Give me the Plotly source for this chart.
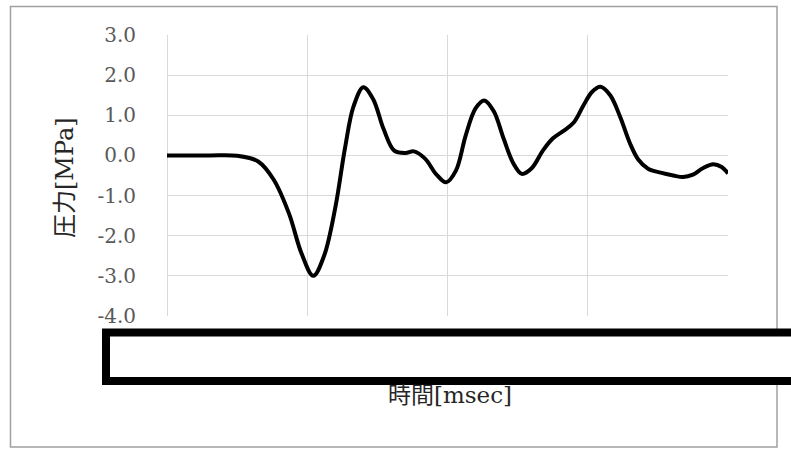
import plotly.graph_objects as go

# Pressure waveform: time [msec] and pressure [MPa]
time_ms = [0.0, 0.30, 0.50, 0.65, 0.76, 0.87, 0.96, 1.043, 1.12, 1.20,
           1.27, 1.33, 1.40, 1.47, 1.545, 1.62, 1.70, 1.76, 1.84, 1.92,
           1.99, 2.06, 2.13, 2.20, 2.262, 2.33, 2.40, 2.47, 2.53, 2.60,
           2.68, 2.75, 2.83, 2.90, 2.97, 3.03, 3.09, 3.16, 3.23, 3.30,
           3.36, 3.43, 3.52, 3.61, 3.68, 3.75, 3.82, 3.895, 3.955, 4.0]
pressure_mpa = [0.0, 0.0, -0.01, -0.15, -0.60, -1.45, -2.45, -3.00, -2.50, -1.30,
                0.20, 1.22, 1.70, 1.40, 0.65, 0.12, 0.06, 0.10, -0.08, -0.47,
                -0.67, -0.38, 0.50, 1.17, 1.37, 1.10, 0.42, -0.20, -0.46, -0.32,
                0.12, 0.42, 0.62, 0.82, 1.25, 1.58, 1.71, 1.50, 0.97, 0.31,
                -0.10, -0.33, -0.43, -0.50, -0.54, -0.48, -0.32, -0.22, -0.29, -0.45]

x_ticks = [0, 1, 2, 3, 4]
y_ticks = [3.0, 2.0, 1.0, 0.0, -1.0, -2.0, -3.0, -4.0]
y_tick_text = [f"{v:.1f}" for v in y_ticks]

W, H = 791, 449
L, R, T, B = 167, 728, 35, 316  # plot area edges in pixels


def px(x):
    return (x - L) / (R - L)


def py(y):
    return (B - y) / (B - T)


fig = go.Figure()
fig.add_trace(go.Scatter(
    x=time_ms, y=pressure_mpa, mode="lines",
    line=dict(color="black", width=4, shape="spline", smoothing=1.0),
    showlegend=False, hoverinfo="skip",
))

grid = "#d9d9d9"
fig.update_layout(
    width=W, height=H,
    margin=dict(l=L, r=W - R, t=T, b=H - B),
    paper_bgcolor="white", plot_bgcolor="white",
    xaxis=dict(range=[0, 4], tickvals=x_ticks, ticktext=[str(v) for v in x_ticks],
               showgrid=True, gridcolor=grid, gridwidth=1,
               zeroline=True, zerolinecolor=grid, zerolinewidth=1,
               showline=False, ticks="", ticklabelstandoff=22,
               tickfont=dict(family="DejaVu Serif", size=20, color="#595959")),
    yaxis=dict(range=[-4, 3], tickvals=y_ticks, ticktext=y_tick_text,
               showgrid=True, gridcolor=grid, gridwidth=1,
               zeroline=False, showline=False, ticks="",
               ticklabelstandoff=30,
               tickfont=dict(family="DejaVu Serif", size=20, color="#595959")),
    annotations=[
        dict(text="圧力[MPa]", textangle=-90, xref="paper", yref="paper",
             x=px(65), y=py(178), xanchor="center", yanchor="middle", showarrow=False,
             font=dict(family="DejaVu Serif, Noto Sans CJK JP", size=24, color="#262626")),
        dict(text="時間[msec]", xref="paper", yref="paper",
             x=px(450), y=py(395), xanchor="center", yanchor="middle", showarrow=False,
             font=dict(family="DejaVu Serif, Noto Sans CJK JP", size=23, color="#262626")),
    ],
    shapes=[
        # chart border
        dict(type="rect", xref="paper", yref="paper",
             x0=px(10.5), x1=px(777), y0=py(447), y1=py(6.5),
             line=dict(color="#a0a0a0", width=1.5), fillcolor="rgba(0,0,0,0)",
             layer="below"),
        # white box with heavy black frame across the bottom
        dict(type="rect", xref="paper", yref="paper",
             x0=px(106), x1=px(800), y0=py(381), y1=py(332.5),
             line=dict(color="black", width=8), fillcolor="white", layer="above"),
    ],
)

fig.write_html("out.html")
